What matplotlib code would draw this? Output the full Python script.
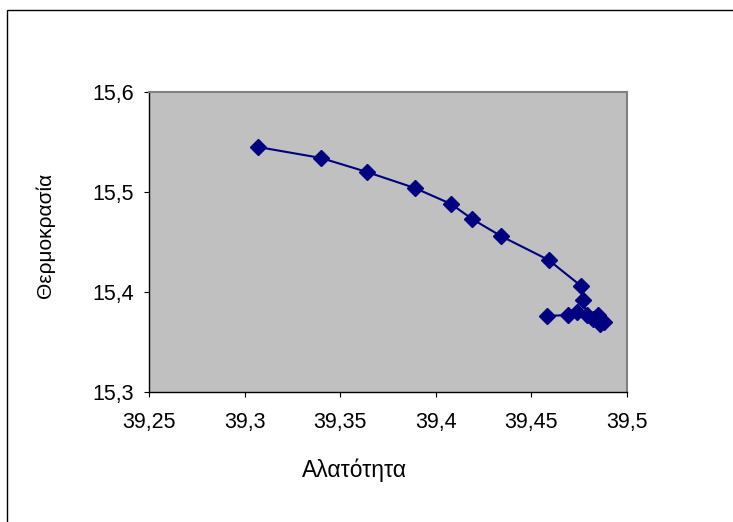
import matplotlib.pyplot as plt
from matplotlib.patches import Rectangle
from matplotlib.ticker import FuncFormatter

plt.rcParams['font.family'] = ['Liberation Sans', 'DejaVu Sans']

# salinity / temperature readings
salinity = [39.307, 39.340, 39.364, 39.389, 39.408, 39.419, 39.434, 39.459, 39.476,
            39.477, 39.479, 39.482, 39.485, 39.488, 39.486, 39.474, 39.469, 39.458]
temperature = [15.545, 15.534, 15.520, 15.504, 15.488, 15.473, 15.456, 15.432, 15.406,
               15.392, 15.377, 15.373, 15.377, 15.370, 15.368, 15.380, 15.377, 15.376]

xticks = [39.25, 39.3, 39.35, 39.4, 39.45, 39.5]
yticks = [15.3, 15.4, 15.5, 15.6]

fig = plt.figure(figsize=(7.33, 5.22), dpi=100)
# chart frame (only top/left edges visible)
fig.patches.append(Rectangle((7/733, -0.1), 1.2, 1 - 10/522 + 0.1, transform=fig.transFigure,
                             fill=False, edgecolor='black', linewidth=1.0))

ax = fig.add_axes([149/733, 130/522, 478/733, 300/522])
ax.set_facecolor('#c0c0c0')
ax.plot(salinity, temperature, color='#000080', linewidth=1.5,
        marker='D', markersize=8, markerfacecolor='#000080', markeredgecolor='#000080')

ax.set_xlim(39.25, 39.5)
ax.set_ylim(15.3, 15.6)
ax.set_xticks(xticks)
ax.set_yticks(yticks)
comma = FuncFormatter(lambda v, p: ('%g' % round(v, 4)).replace('.', ','))
ax.xaxis.set_major_formatter(comma)
ax.yaxis.set_major_formatter(comma)
ax.tick_params(direction='out', length=3.6, labelsize=15.5, colors='black')
ax.tick_params(axis='y', pad=7)
ax.tick_params(axis='x', pad=11)

for s in ['top', 'right']:
    ax.spines[s].set_color('#808080')
    ax.spines[s].set_linewidth(1.5)
for s in ['left', 'bottom']:
    ax.spines[s].set_color('black')
    ax.spines[s].set_linewidth(1.0)

fig.text(354/733, 1 - 470/522, 'Αλατότητα', ha='center', va='center', fontsize=16.5)
fig.text(45/733, 1 - 235/522, 'Θερμοκρασία', ha='center', va='center', fontsize=15, rotation=90)

plt.savefig('out.png', dpi=100)
